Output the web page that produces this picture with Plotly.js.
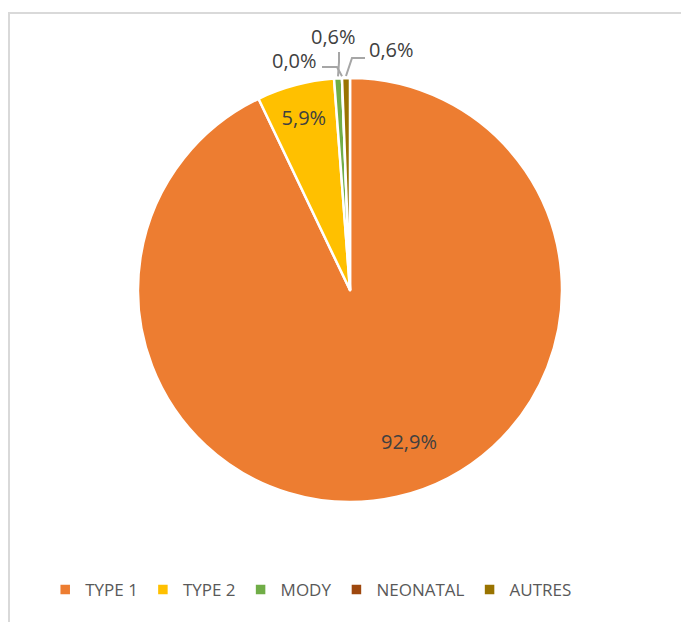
<!DOCTYPE html>
<html>
<head>
<meta charset="utf-8">
<script src="https://cdn.plot.ly/plotly-3.0.1.min.js"></script>
<style>
  html, body { margin: 0; padding: 0; background: #ffffff; }
  #wrap { position: relative; width: 681px; height: 622px; overflow: hidden; }
  #chart { position: absolute; left: 0; top: 0; width: 681px; height: 622px; }
  #frame { position: absolute; left: 8px; top: 12px; width: 700px; height: 640px;
           border-left: 2px solid #d9d9d9; border-top: 2px solid #d9d9d9; pointer-events: none; }
</style>
</head>
<body>
<div id="wrap">
  <div id="chart"></div>
  <div id="frame"></div>
</div>
<script>
// ---- data ----
var categories = ["TYPE 1", "TYPE 2", "MODY", "NEONATAL", "AUTRES"];
var values = [92.9, 5.9, 0.6, 0.0, 0.6];
var colors = ["#ED7D31", "#FFC000", "#70AD47", "#9E480E", "#997300"];

function fmt(v) { return v.toFixed(1).replace(".", ",") + "%"; }
var labelsText = values.map(fmt);

// ---- geometry (pixels) ----
var W = 681, H = 622;
var cx = 350, cy = 290, R = 212;
function px(x) { return x / W; }
function py(y) { return 1 - y / H; }

var LABEL_FONT = { family: "Open Sans, sans-serif", size: 20, color: "#404040" };

// only TYPE 2 uses the library's inside text; other labels are placed as in the reference
var textPos = ["none", "inside", "none", "none", "none"];

var trace = {
  type: "pie",
  labels: categories,
  values: values,
  text: labelsText,
  texttemplate: "%{text}",
  textposition: textPos,
  insidetextorientation: "horizontal",
  sort: false,
  direction: "clockwise",
  rotation: 0,
  marker: { colors: colors, line: { color: "#ffffff", width: 2.5 } },
  insidetextfont: LABEL_FONT,
  domain: { x: [px(cx - R), px(cx + R)], y: [py(cy + R), py(cy - R)] },
  hoverinfo: "label+percent",
  showlegend: true
};

var total = values.reduce(function (a, b) { return a + b; }, 0);
var cum = [];
var acc = 0;
for (var i = 0; i < values.length; i++) { cum.push(acc + values[i] / 2); acc += values[i]; }
function edgePoint(i) {
  var ang = cum[i] / total * 2 * Math.PI; // clockwise from 12 o'clock
  return [cx + R * Math.sin(ang), cy - R * Math.cos(ang)];
}

// label placement (pixel positions of label centers and elbow points)
var placedLabels = [
  { idx: 0, x: 409, y: 441, path: null },
  { idx: 2, x: 333, y: 37, path: [[339, 52], [339, 62]] },
  { idx: 3, x: 294, y: 60, path: [[322, 67], [337, 67]] },
  { idx: 4, x: 391, y: 50, path: [[365, 58], [352, 58]] }
];

var annotations = [];
var shapes = [];
placedLabels.forEach(function (s) {
  annotations.push({
    xref: "paper", yref: "paper", x: px(s.x), y: py(s.y),
    xanchor: "center", yanchor: "middle", showarrow: false,
    text: labelsText[s.idx],
    font: LABEL_FONT
  });
  if (s.path) {
    var e = edgePoint(s.idx);
    var pts = s.path.concat([[e[0], e[1] - 2]]);
    var d = "M" + pts.map(function (p) { return px(p[0]) + "," + py(p[1]); }).join(" L");
    shapes.push({
      type: "path", xref: "paper", yref: "paper", path: d,
      line: { color: "#a6a6a6", width: 2 }
    });
  }
});

var layout = {
  width: W, height: H,
  margin: { l: 0, r: 0, t: 0, b: 0 },
  paper_bgcolor: "#ffffff",
  showlegend: true,
  legend: {
    orientation: "h", x: 0.457, xanchor: "center", y: py(590), yanchor: "middle",
    font: { family: "Open Sans, sans-serif", size: 17, color: "#595959" },
    traceorder: "normal", itemclick: false, itemdoubleclick: false
  },
  annotations: annotations,
  shapes: shapes
};

Plotly.newPlot("chart", [trace], layout, { displayModeBar: false, staticPlot: true });
</script>
</body>
</html>
